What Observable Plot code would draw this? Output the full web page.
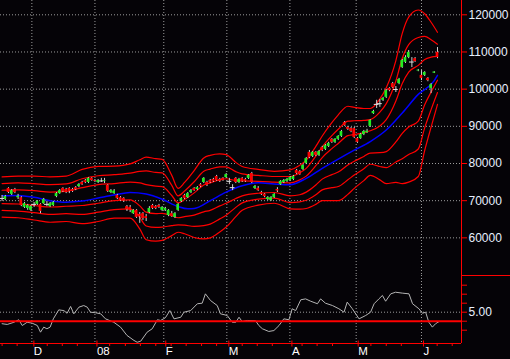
<!DOCTYPE html>
<html><head><meta charset="utf-8">
<script src="https://cdn.jsdelivr.net/npm/d3@7"></script>
<script src="https://cdn.jsdelivr.net/npm/@observablehq/plot@0.6"></script>
<style>
html,body{margin:0;padding:0;background:#050307;}
#chart{position:relative;width:510px;height:359px;background:#050307;overflow:hidden;}
#chart svg{display:block;}
#sep{position:absolute;left:461px;top:275px;width:49px;height:1px;background:#ff0000;}
</style></head><body><div id="chart"><div id="sep"></div></div>
<script>
// ---- price data (thousands of yen), one entry per trading day ----
const open = [70.6,70.3,73.3,71.7,73.0,70.8,70.8,68.2,67.9,67.4,69.0,69.0,69.0,69.2,69.0,68.4,68.7,71.1,71.9,73.3,73.0,73.3,73.0,73.5,73.8,74.9,75.4,74.9,76.0,75.4,74.9,75.3,75.2,74.1,72.2,71.9,71.4,70.8,70.6,68.4,68.2,66.5,67.4,66.3,66.5,65.7,66.8,68.7,68.4,68.7,67.4,67.4,66.0,66.5,65.5,67.4,69.8,71.4,70.8,72.2,73.3,73.0,74.3,74.9,74.9,75.4,75.7,76.5,75.7,76.0,76.2,75.2,73.5,76.0,74.9,76.0,75.7,76.0,77.3,73.3,73.3,72.2,71.7,70.3,70.0,70.8,73.0,74.3,74.9,75.2,75.4,75.7,78.1,77.8,78.4,80.0,83.0,81.9,83.0,82.2,84.3,83.8,84.6,86.5,85.7,86.5,87.3,91.0,89.7,89.4,89.4,86.7,86.7,87.8,88.3,90.0,93.4,95.9,96.1,97.0,97.8,100.2,101.5,99.9,101.5,105.8,107.2,108.5,107.3,108.2,104.9,103.7,103.7,102.9,100.2,104.3,109.9];
const high = [71.4,71.4,73.5,73.0,73.3,71.7,71.1,69.5,69.0,68.7,69.5,70.0,69.2,70.6,69.8,69.5,69.8,72.2,73.0,73.5,73.3,73.5,73.3,73.8,74.6,75.2,75.7,76.2,76.2,75.7,75.7,76.0,76.0,74.3,73.0,73.0,71.7,71.1,70.8,68.7,68.7,67.6,67.6,66.8,66.8,66.3,68.4,69.0,68.7,69.0,68.4,68.2,67.6,67.1,66.8,69.2,70.8,71.7,72.2,73.0,73.5,73.8,74.6,76.2,75.2,75.7,76.0,76.8,76.0,76.2,77.3,76.0,74.3,76.2,76.0,76.2,76.0,77.0,77.6,74.1,73.8,72.5,71.9,71.1,71.1,71.9,73.5,75.4,75.7,76.0,76.5,76.8,78.4,78.1,79.7,81.6,83.5,83.2,83.2,83.5,84.6,85.1,85.7,86.7,86.7,87.5,88.9,91.3,90.0,89.7,89.7,87.0,88.1,88.9,89.2,91.8,94.3,97.0,97.2,97.8,99.9,100.4,101.8,100.7,102.9,108.0,109.0,110.4,108.5,108.5,105.3,105.0,104.7,103.1,101.5,104.7,111.2];
const low = [69.8,70.0,71.9,71.4,71.9,70.3,68.4,67.9,67.4,67.1,68.2,68.7,66.5,69.0,68.4,68.2,68.4,70.8,71.7,72.2,71.9,71.9,72.2,72.7,73.5,74.1,74.6,74.6,75.2,74.9,74.6,74.9,74.6,72.2,71.9,71.7,70.3,69.8,69.5,67.1,66.8,66.3,65.2,63.9,64.7,64.4,66.5,67.6,67.6,67.9,67.1,67.1,65.7,65.5,65.2,67.1,69.5,70.3,70.6,71.9,72.5,72.7,73.5,74.6,73.8,74.6,74.9,75.2,74.9,75.2,76.0,74.3,72.7,74.6,74.6,74.9,74.9,75.7,74.6,73.0,72.5,71.4,70.8,70.0,69.8,70.6,72.2,74.1,74.6,74.9,75.2,75.4,77.0,76.8,78.1,79.7,81.3,81.6,81.9,81.9,83.2,83.5,84.3,85.4,85.4,86.2,87.0,90.0,88.9,88.3,86.7,85.4,86.5,87.5,88.1,89.7,93.2,94.8,95.1,96.7,97.5,99.3,100.2,99.1,101.2,105.6,106.9,108.2,105.8,107.2,104.7,102.3,103.4,102.0,98.8,104.2,108.2];
const close = [70.6,71.1,72.2,72.7,72.2,71.2,68.7,69.2,68.7,68.4,69.0,69.8,67.1,70.3,69.0,69.2,69.5,71.9,72.7,72.5,72.2,72.5,72.5,73.0,74.3,74.3,74.9,76.0,75.4,75.2,75.4,75.3,75.4,72.5,72.7,72.6,70.6,70.0,69.9,67.6,67.4,67.4,65.5,65.7,65.2,65.2,67.9,67.9,67.9,68.2,68.2,67.9,67.4,65.7,66.5,69.0,70.6,70.6,71.9,72.7,72.7,73.5,73.8,76.0,74.1,74.9,75.2,75.4,75.2,75.4,77.0,75.2,73.5,74.9,75.7,75.2,75.2,76.8,74.9,73.8,72.7,71.7,71.1,70.8,70.8,71.7,72.6,75.2,75.4,75.7,76.2,76.5,77.3,77.0,79.5,81.3,81.6,83.0,82.2,83.2,83.5,84.8,85.4,85.7,86.5,87.3,88.6,90.2,89.2,88.6,87.0,85.7,87.8,88.6,88.7,91.6,94.0,95.9,96.1,97.5,99.6,99.6,100.4,99.9,102.6,107.7,108.5,109.9,107.3,107.4,105.1,102.9,104.5,102.3,101.2,104.6,108.5];

// ---- Bollinger bands (+-1,2,3 sigma), read at these trading-day positions ----
const bandIdx = [0,5,10,15,20,25,30,35,40,43,45,48,50,53,55,57,60,63,65,68,70,73,75,80,85,90,93,95,98,100,103,105,108,110,113,115,118,120,123,125,127,130,132,134,136];
const upper3 = [76.4,76.6,76.6,76.4,76.6,78.4,79.2,79.3,79.9,81.0,81.7,81.3,81.1,76.8,73.3,74.9,78.1,81.5,82.2,82.6,82.4,80.3,79.2,78.4,77.9,78.3,79.5,80.9,84.6,87.4,91.0,93.1,95.4,95.1,94.8,94.8,97.4,100.4,107.7,115.0,119.4,121.3,120.3,118.0,115.3];
const upper2 = [74.6,74.8,74.6,74.3,74.5,75.9,76.7,77.0,77.4,77.9,78.0,77.6,77.5,74.1,71.3,72.6,75.1,77.9,78.5,79.1,79.1,77.8,77.2,76.8,76.5,76.5,77.5,78.7,82.0,84.5,87.5,89.2,91.4,91.5,91.6,91.8,93.8,96.1,102.2,108.3,112.0,113.9,114.2,113.3,112.1];
const upper1 = [72.8,72.9,72.7,72.3,72.5,73.5,74.3,74.6,75.0,74.8,74.3,73.9,73.8,71.4,69.4,70.3,72.1,74.2,74.8,75.6,75.9,75.4,75.3,75.2,75.0,74.8,75.6,76.6,79.4,81.6,84.0,85.4,87.5,87.8,88.3,88.8,90.1,91.8,96.8,101.5,104.6,106.4,108.0,108.6,108.8];
const lower1 = [69.2,69.1,68.7,68.3,68.5,68.7,69.3,70.0,70.2,68.6,66.9,66.5,66.6,66.0,65.4,65.7,66.1,67.0,67.4,68.6,69.3,70.6,71.3,72.0,72.2,71.3,71.6,72.3,74.2,75.8,77.0,77.7,79.6,80.6,81.9,82.8,82.9,83.2,85.8,88.1,89.8,91.4,95.8,99.2,102.4];
const lower2 = [67.4,67.2,66.8,66.3,66.5,66.3,66.9,67.6,67.8,65.5,63.2,62.8,62.9,63.3,63.5,63.4,63.1,63.3,63.7,65.1,66.1,68.2,69.4,70.4,70.7,69.5,69.7,70.1,71.6,72.9,73.5,73.8,75.6,76.9,78.6,79.8,79.2,78.9,80.4,81.3,82.4,83.9,89.6,94.5,99.1];
const lower3 = [65.6,65.4,64.8,64.2,64.4,63.8,64.4,65.3,65.3,62.4,59.5,59.1,59.3,60.6,61.5,61.1,60.1,59.7,60.0,61.6,62.9,65.7,67.4,68.8,69.3,67.8,67.7,67.9,69.0,70.0,70.0,70.0,71.7,73.3,75.4,76.8,75.6,74.6,74.9,74.6,75.0,76.5,83.5,89.8,95.9];

// ---- moving average (blue) ----
const maIdx = [0,5,10,15,20,25,30,35,40,45,50,55,58,60,65,70,75,80,85,90,95,100,105,110,115,120,125,130,135,136];
const maVal = [71.3,71.4,70.9,70.0,69.6,69.9,70.7,71.5,72.2,71.8,70.4,68.4,67.8,67.9,70.0,72.3,74.0,74.8,74.5,74.3,76.0,78.7,81.2,83.6,85.9,89.0,93.6,98.6,102.3,103.7];

// ---- lower oscillator ----
const oscX = [0,1.6,3.7,5.2,6.3,7.8,9.4,11,12,13,14,15,16,17.7,19.3,20.3,21.4,22.4,24,25.5,26.6,27.6,29.2,30.8,32.3,34.9,37,39,41.2,42.2,43.3,45.3,46.9,48.5,49.5,51,52.4,53.7,55.8,56.8,58.9,61,62.5,63.5,65.1,67.2,68.2,70.3,71.9,73,74,75,76.6,79.2,80.2,81.3,83.3,84.9,86.5,88,89.6,90.6,91.7,93.3,94.8,96.4,98.5,99.5,101,103.2,105.2,106.8,107.8,109.4,111.5,113.6,115.1,116.2,117.7,118.8,119.8,121.4,122.9,125,127.1,128.2,130.2,131.3,132.3,133.3,134.4,135.4,136.5];
const oscV = [4.36,4.32,4.44,4.58,4.26,4.44,4.39,4.26,3.89,4.17,4.08,4.17,4.63,5.13,5.09,4.94,5.32,4.91,5.28,5.37,5.28,5.0,4.97,4.91,4.63,4.44,4.17,3.71,3.43,3.33,3.39,3.89,4.08,4.58,4.54,4.69,5.09,4.63,4.72,5.0,5.09,5.47,5.5,6.02,5.65,5.37,4.91,4.82,4.44,4.44,4.72,4.48,4.54,4.52,4.26,4.08,3.93,3.98,4.26,4.63,4.58,5.19,5.09,5.69,5.74,5.61,5.47,5.74,5.5,5.37,5.19,5.0,5.56,5.19,4.63,4.82,5.0,5.47,5.74,5.93,5.61,6.02,6.11,6.06,6.02,5.47,5.19,4.94,5.0,4.44,4.17,4.36,4.48];
const oscSignal = [4.5];

// ---- ticks and labels ----
const yTicks = [60,70,80,90,100,110,120];
const yTickLabels = ["60000","70000","80000","90000","100000","110000","120000"];
const oscTicks = [4,4.5,5,5.5,6,6.5];
const oscTickLabels = ["","","5.00","","",""];
const monthTicks = [9.3,29,50.5,70.2,89.9,110.6,131];
const monthLabels = ["D","08","F","M","A","M","J"];
const weekTicks = [0,4.7,14.1,18.8,23.5,33.6,38.5,43.2,48,52.8,57.5,62.3,67,75,79.7,84.4,93.7,98.4,103.2,115.2,120,124.7,135.9,140.6];

// ---- build rows ----
const X_DOMAIN = [-0.5, 143.5];
const candles = open.map((o, i) => ({i, o, h: high[i], l: low[i], c: close[i]}));
const bandSets = [upper3, upper2, upper1, lower1, lower2, lower3];
const bandRows = bandSets.flatMap((arr, k) => arr.map((v, j) => ({k, i: bandIdx[j], v})));
const maRows = maIdx.map((i, j) => ({i, v: maVal[j]}));
const oscRows = oscX.map((i, j) => ({i, v: oscV[j]}));

const GRID = "#9c9c9c";
const TXT = "#e8f0ff";
const FONT = "'Liberation Sans', Arial, sans-serif";
const baseStyle = {background: "#050307", color: TXT, fontFamily: FONT, fontSize: "12px", overflow: "visible"};

const main = Plot.plot({
  width: 510, height: 275,
  marginTop: 0, marginBottom: 0, marginLeft: 0, marginRight: 49,
  x: {domain: X_DOMAIN, axis: null, label: null},
  y: {domain: [49.87, 123.85], axis: null, label: null},
  style: baseStyle,
  marks: [
    Plot.ruleY(yTicks, {stroke: GRID, strokeDasharray: "1,2"}),
    Plot.ruleX(monthTicks, {stroke: GRID, strokeDasharray: "1,2"}),
    Plot.line(bandRows, {x: "i", y: "v", z: "k", stroke: "#ff0000", strokeWidth: 1.2, curve: "monotone-x"}),
    Plot.line(maRows, {x: "i", y: "v", stroke: "#0000ff", strokeWidth: 1.5, curve: "monotone-x"}),
    Plot.ruleX(candles, {x: "i", y1: "l", y2: "h", stroke: "#cfcfcf"}),
    Plot.rect(candles.filter(d => d.o !== d.c), {
      x1: d => d.i - 0.42, x2: d => d.i + 0.42, y1: "o", y2: "c",
      fill: d => d.c > d.o ? "#22ee22" : "#ff0000"
    }),
    Plot.ruleY(candles.filter(d => d.o === d.c), {y: "c", x1: d => d.i - 0.75, x2: d => d.i + 0.75, stroke: "#e0e0e0"}),
    Plot.ruleX([X_DOMAIN[1]], {stroke: "#ff0000"}),
    Plot.axisY({ticks: yTicks, anchor: "right", label: null, tickSize: 5, tickPadding: 2,
      tickFormat: d => yTickLabels[yTicks.indexOf(d)], stroke: "#ff0000", fill: TXT, fontSize: 12})
  ]
});

const lower = Plot.plot({
  width: 510, height: 84,
  marginTop: 0, marginBottom: 16, marginLeft: 0, marginRight: 49,
  x: {domain: X_DOMAIN, axis: null, label: null},
  y: {domain: [3.261, 7.039], axis: null, label: null},
  style: baseStyle,
  marks: [
    Plot.ruleY([5], {stroke: GRID, strokeDasharray: "1,2"}),
    Plot.ruleX(monthTicks, {stroke: GRID, strokeDasharray: "1,2"}),
    Plot.line(oscRows, {x: "i", y: "v", stroke: "#b4b4b4", strokeWidth: 1}),
    Plot.ruleY(oscSignal, {stroke: "#ff0000", strokeWidth: 2}),
    Plot.ruleY([3.261], {stroke: "#ff0000"}),
    Plot.ruleX([X_DOMAIN[1]], {stroke: "#ff0000"}),
    Plot.axisY({ticks: oscTicks, anchor: "right", label: null, tickSize: 5, tickPadding: 2,
      tickFormat: d => oscTickLabels[oscTicks.indexOf(d)], stroke: "#ff0000", fill: TXT, fontSize: 12}),
    Plot.axisX({ticks: weekTicks, anchor: "bottom", label: null, tickSize: 3, tickFormat: () => "", stroke: "#ff0000"}),
    Plot.axisX({ticks: monthTicks, anchor: "bottom", label: null, tickSize: 6, tickPadding: 0,
      tickFormat: d => monthLabels[monthTicks.indexOf(d)], textAnchor: "start", dx: 2, dy: -2.5,
      stroke: "#ff0000", fill: "#ffffff", fontSize: 11.5})
  ]
});

const root = document.getElementById("chart");
root.appendChild(main);
root.appendChild(lower);
</script></body></html>
